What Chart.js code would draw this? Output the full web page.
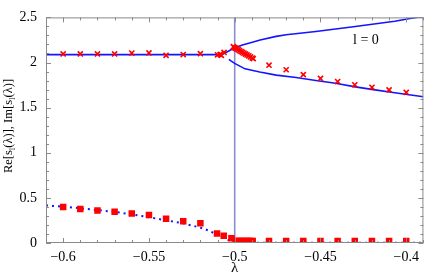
<!DOCTYPE html>
<html>
<head>
<meta charset="utf-8">
<script src="https://cdn.jsdelivr.net/npm/chart.js@4"></script>
<style>
  html, body { margin: 0; padding: 0; background: #fff; }
</style>
</head>
<body>
<canvas id="c" width="429" height="276"></canvas>
<script>
// upper branch (solid blue), Im part
const upperX = [-0.61, -0.55, -0.5075, -0.5005, -0.4955, -0.4892, -0.4852, -0.4758, -0.47, -0.4527, -0.4297, -0.4067, -0.397, -0.39];
const upperY = [2.087, 2.087, 2.087, 2.158, 2.195, 2.228, 2.25, 2.29, 2.307, 2.344, 2.40, 2.457, 2.49, 2.51];

// lower branch after the split (solid blue)
const lowerX = [-0.5034, -0.502, -0.5, -0.497, -0.494, -0.4854, -0.4758, -0.4642, -0.4527, -0.4412, -0.4297, -0.4182, -0.4067, -0.39];
const lowerY = [2.035, 2.015, 1.99, 1.96, 1.93, 1.894, 1.86, 1.834, 1.80, 1.77, 1.73, 1.697, 1.665, 1.62];

// real part (dotted blue)
const reX = [-0.61, -0.6, -0.59, -0.58, -0.57, -0.56, -0.55, -0.54, -0.53, -0.52, -0.515, -0.51, -0.506, -0.5025, -0.5, -0.498, -0.39];
const reY = [0.416, 0.402, 0.385, 0.365, 0.345, 0.318, 0.285, 0.252, 0.218, 0.17, 0.137, 0.09, 0.055, 0.022, 0.005, 0.004, 0.004];

// numerical points, crosses (Im)
const crossX = [-0.6, -0.59, -0.58, -0.57, -0.56, -0.55, -0.54, -0.53, -0.52, -0.51, -0.5085, -0.5078, -0.5062,
  -0.5008, -0.5002, -0.4995, -0.4988, -0.498, -0.4972, -0.4963, -0.4955, -0.4946, -0.4937, -0.4928, -0.4918, -0.4908, -0.4898, -0.4892,
  -0.48, -0.47, -0.46, -0.45, -0.44, -0.43, -0.42, -0.41, -0.40];
const crossY = [2.095, 2.095, 2.095, 2.095, 2.105, 2.106, 2.08, 2.088, 2.098, 2.085, 2.09, 2.08, 2.112,
  2.175, 2.165, 2.16, 2.15, 2.142, 2.132, 2.122, 2.113, 2.103, 2.094, 2.084, 2.074, 2.062, 2.05, 2.043,
  1.97, 1.92, 1.866, 1.824, 1.789, 1.753, 1.725, 1.697, 1.668];

// numerical points, squares (Re)
const squareX = [-0.6, -0.59, -0.58, -0.57, -0.56, -0.55, -0.54, -0.53, -0.52, -0.5103, -0.5064, -0.5019,
  -0.4995, -0.4985, -0.4975, -0.4965, -0.4955, -0.4945, -0.4935, -0.4925, -0.4915, -0.4905, -0.4895,
  -0.48, -0.47, -0.46, -0.45, -0.44, -0.43, -0.42, -0.41, -0.40];
const squareY = [0.40, 0.377, 0.36, 0.345, 0.327, 0.31, 0.268, 0.24, 0.219, 0.106, 0.081, 0.053,
  0.022, 0.022, 0.022, 0.022, 0.022, 0.022, 0.022, 0.022, 0.022, 0.022, 0.022,
  0.022, 0.022, 0.022, 0.022, 0.022, 0.022, 0.022, 0.022, 0.022];

// vertical marker at lambda = -0.5
const markX = [-0.5, -0.5];
const markY = [0, 2.5];

const xTicks = [-0.6, -0.55, -0.5, -0.45, -0.4];
const xTickLabels = ['\u22120.6', '\u22120.55', '\u22120.5', '\u22120.45', '\u22120.4'];
const yTicks = [0, 0.5, 1, 1.5, 2, 2.5];
const yTickLabels = ['0', '0.5', '1', '1.5', '2', '2.5'];

function pts(xs, ys) {
  return xs.map((x, i) => ({x: x, y: ys[i]}));
}

const serif = '"Liberation Serif", "DejaVu Serif", serif';

// inward ticks on all four sides + frame + texts
const framePlugin = {
  id: 'frameTicks',
  afterDatasetsDraw(chart) {
    const ctx = chart.ctx;
    const a = chart.chartArea;
    const xs = chart.scales.x, ys = chart.scales.y;
    ctx.save();
    ctx.strokeStyle = '#8a8a8a';
    ctx.lineWidth = 1;
    ctx.strokeRect(a.left + 0.5, a.top + 0.5, a.right - a.left - 1, a.bottom - a.top - 1);

    ctx.beginPath();
    for (let k = -61; k <= -39; k++) {
      const v = k / 100;
      const px = Math.round(xs.getPixelForValue(v)) + 0.5;
      const major = xTicks.some(t => Math.abs(t - v) < 1e-6);
      const len = major ? 5 : 3;
      ctx.moveTo(px, a.bottom); ctx.lineTo(px, a.bottom - len);
      ctx.moveTo(px, a.top); ctx.lineTo(px, a.top + len);
    }
    for (let k = 0; k <= 25; k++) {
      const v = k / 10;
      const py = Math.round(ys.getPixelForValue(v)) + 0.5;
      const major = k % 5 === 0;
      const len = major ? 5 : 3;
      ctx.moveTo(a.left, py); ctx.lineTo(a.left + len, py);
      ctx.moveTo(a.right, py); ctx.lineTo(a.right - len, py);
    }
    ctx.stroke();

    // label l = 0
    ctx.fillStyle = '#000';
    ctx.font = '14px ' + serif;
    ctx.textAlign = 'center';
    ctx.textBaseline = 'middle';
    ctx.fillText('l = 0', xs.getPixelForValue(-0.4235), ys.getPixelForValue(2.245));

    // x title
    ctx.font = '15px ' + serif;
    ctx.fillText('\u03bb', xs.getPixelForValue(-0.5), 268);

    // y title with subscripts
    const parts = [['Re[s', 0], ['l', 1], ['(\u03bb)], Im[s', 0], ['l', 1], ['(\u03bb)]', 0]];
    const big = '12.5px ' + serif, small = '9px ' + serif;
    let total = 0;
    for (const p of parts) { ctx.font = p[1] ? small : big; total += ctx.measureText(p[0]).width; }
    ctx.translate(12, 126);
    ctx.rotate(-Math.PI / 2);
    ctx.textAlign = 'left';
    ctx.textBaseline = 'alphabetic';
    let cx = -total / 2;
    for (const p of parts) {
      ctx.font = p[1] ? small : big;
      ctx.fillText(p[0], cx, p[1] ? 3 : 0);
      cx += ctx.measureText(p[0]).width;
    }
    ctx.restore();
  }
};

new Chart(document.getElementById('c').getContext('2d'), {
  type: 'scatter',
  data: {
    datasets: [
      {
        label: 'marker',
        data: pts(markX, markY),
        showLine: true,
        borderColor: '#8c8cd2',
        borderWidth: 1.6,
        pointRadius: 0,
        order: 6
      },
      {
        label: 'Re line',
        data: pts(reX, reY),
        showLine: true,
        borderColor: '#1414ff',
        borderWidth: 2,
        borderDash: [2, 4],
        pointRadius: 0,
        order: 5
      },
      {
        label: 'upper',
        data: pts(upperX, upperY),
        showLine: true,
        borderColor: '#1414ff',
        borderWidth: 1.6,
        pointRadius: 0,
        order: 4
      },
      {
        label: 'lower',
        data: pts(lowerX, lowerY),
        showLine: true,
        borderColor: '#1414ff',
        borderWidth: 1.6,
        pointRadius: 0,
        order: 3
      },
      {
        label: 'squares',
        data: pts(squareX, squareY),
        pointStyle: 'rect',
        pointRadius: 4.6,
        backgroundColor: '#ff0000',
        borderColor: '#ff0000',
        borderWidth: 0,
        order: 2
      },
      {
        label: 'crosses',
        data: pts(crossX, crossY),
        pointStyle: 'crossRot',
        pointRadius: 3.6,
        borderColor: '#ff0000',
        borderWidth: 1.6,
        order: 1
      }
    ]
  },
  options: {
    responsive: false,
    animation: false,
    events: [],
    layout: { padding: { top: 6, right: 1, left: 0, bottom: 0 } },
    plugins: { legend: { display: false }, tooltip: { enabled: false } },
    scales: {
      x: {
        type: 'linear',
        min: -0.61,
        max: -0.39,
        grid: { display: false, drawTicks: false },
        border: { display: false },
        afterBuildTicks: s => { s.ticks = xTicks.map(v => ({value: v})); },
        afterFit: s => { s.height = 33; },
        ticks: {
          padding: 6,
          color: '#000',
          font: { family: serif, size: 14 },
          maxRotation: 0,
          callback: v => xTickLabels[xTicks.findIndex(t => Math.abs(t - v) < 1e-6)]
        }
      },
      y: {
        min: 0,
        max: 2.5,
        grid: { display: false, drawTicks: false },
        border: { display: false },
        afterBuildTicks: s => { s.ticks = yTicks.map(v => ({value: v})); },
        afterFit: s => { s.width = 46; },
        ticks: {
          padding: 9,
          color: '#000',
          font: { family: serif, size: 14 },
          callback: v => yTickLabels[yTicks.findIndex(t => Math.abs(t - v) < 1e-6)]
        }
      }
    }
  },
  plugins: [framePlugin]
});
</script>
</body>
</html>
